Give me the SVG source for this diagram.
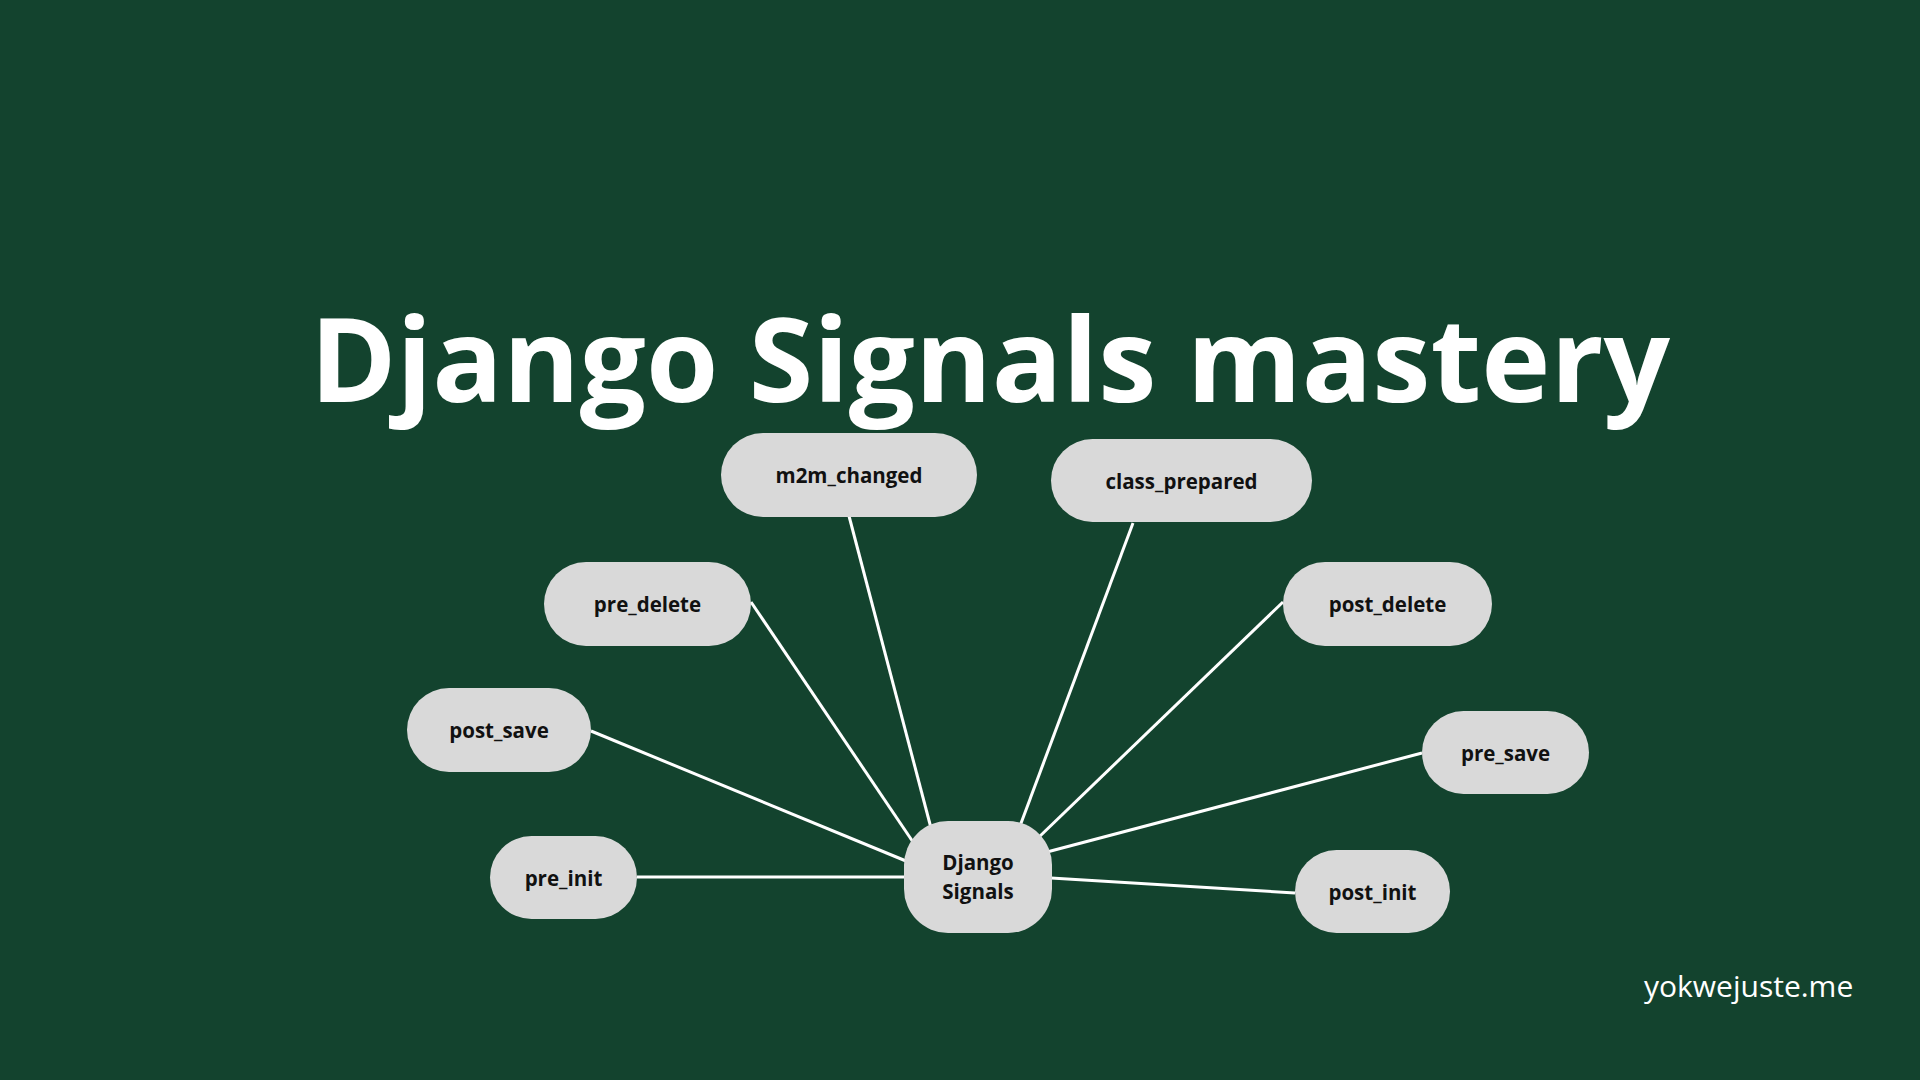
<svg xmlns="http://www.w3.org/2000/svg" width="1920" height="1080" viewBox="0 0 1920 1080">
<style>
.pill{fill:#d9d9d9}
.lbl{font-family:"Open Sans","Liberation Sans",sans-serif;font-weight:700;font-size:20.5px;fill:#111;text-anchor:middle}
.edge{stroke:#ffffff;stroke-width:3;fill:none}
</style>
<rect width="1920" height="1080" fill="#13432e"/>
<text x="990" y="402" font-family="'Open Sans','Liberation Sans',sans-serif" font-weight="700" font-size="117" fill="#ffffff" text-anchor="middle">Django Signals mastery</text>
<g id="connectors">
<line class="edge" x1="637" y1="877" x2="904" y2="877"/>
<line class="edge" x1="591" y1="731" x2="906" y2="861"/>
<line class="edge" x1="751" y1="602" x2="913" y2="842"/>
<line class="edge" x1="849" y1="516" x2="931" y2="828"/>
<line class="edge" x1="1133" y1="523" x2="1020" y2="826"/>
<line class="edge" x1="1283" y1="602" x2="1038" y2="838"/>
<line class="edge" x1="1422" y1="753" x2="1047" y2="852"/>
<line class="edge" x1="1295" y1="893" x2="1051" y2="878"/>
</g>
<g id="node-center"><rect class="pill" x="904" y="821" width="148" height="112" rx="44"/><text class="lbl" x="978" y="870">Django</text><text class="lbl" x="978" y="899">Signals</text></g>
<g id="node-m2m_changed"><rect class="pill" x="721" y="433" width="256" height="84" rx="42"/><text class="lbl" x="849" y="483">m2m_changed</text></g>
<g id="node-class_prepared"><rect class="pill" x="1051" y="439" width="261" height="83" rx="41.5"/><text class="lbl" x="1181.5" y="488.5">class_prepared</text></g>
<g id="node-pre_delete"><rect class="pill" x="544" y="562" width="207" height="84" rx="42"/><text class="lbl" x="647.5" y="612">pre_delete</text></g>
<g id="node-post_save"><rect class="pill" x="407" y="688" width="184" height="84" rx="42"/><text class="lbl" x="499" y="738">post_save</text></g>
<g id="node-pre_init"><rect class="pill" x="490" y="836" width="147" height="83" rx="41.5"/><text class="lbl" x="563.5" y="885.5">pre_init</text></g>
<g id="node-post_delete"><rect class="pill" x="1283" y="562" width="209" height="84" rx="42"/><text class="lbl" x="1387.5" y="612">post_delete</text></g>
<g id="node-pre_save"><rect class="pill" x="1422" y="711" width="167" height="83" rx="41.5"/><text class="lbl" x="1505.5" y="760.5">pre_save</text></g>
<g id="node-post_init"><rect class="pill" x="1295" y="850" width="155" height="83" rx="41.5"/><text class="lbl" x="1372.5" y="899.5">post_init</text></g>
<text x="1644" y="997" font-family="'Open Sans','Liberation Sans',sans-serif" font-size="30" fill="#ffffff">yokwejuste.me</text>
</svg>
